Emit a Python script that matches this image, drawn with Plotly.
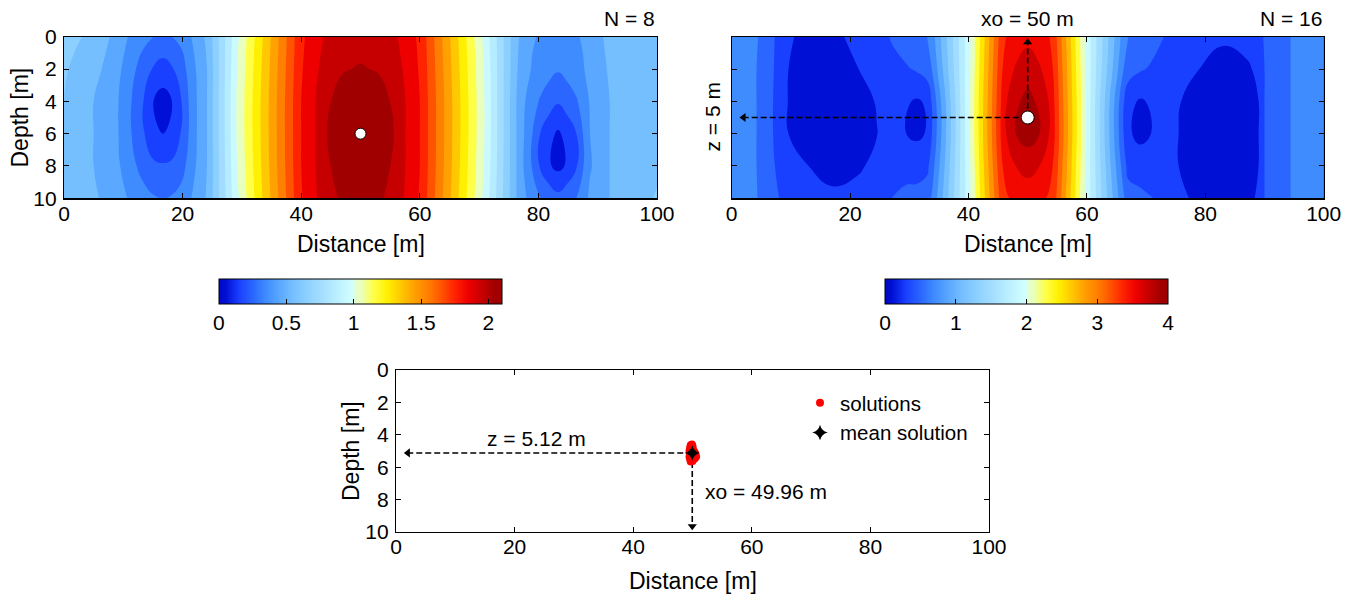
import numpy as np
import plotly.graph_objects as go

# ---------------- data ----------------
Z_ROWS = [0, 2, 4, 6, 8, 10]

# Field for N = 8 (columns of values at depths Z_ROWS)
X1 = [0, 3, 5, 7.7, 9.2, 11.4, 13.4, 15.1, 16.7, 18.2, 19.8, 21, 22.4, 24.1, 29.2,
      40, 42.2, 44.4, 47, 50, 53, 55.6, 57.8, 60, 70.8, 76.3, 77.6, 79, 80.3, 81.8,
      83.3, 84.8, 86.4, 87.5, 88.7, 92, 96, 100]
F1_COLS = [
    [0.63, 0.61, 0.60, 0.58, 0.56, 0.55],
    [0.60, 0.57, 0.54, 0.53, 0.52, 0.52],
    [0.55, 0.53, 0.50, 0.50, 0.50, 0.51],
    [0.50, 0.47, 0.45, 0.45, 0.46, 0.48],
    [0.45, 0.42, 0.40, 0.40, 0.41, 0.44],
    [0.38, 0.33, 0.30, 0.30, 0.33, 0.38],
    [0.33, 0.25, 0.20, 0.21, 0.26, 0.34],
    [0.30, 0.19, 0.10, 0.12, 0.22, 0.31],
    [0.295, 0.15, 0.065, 0.10, 0.21, 0.30],
    [0.30, 0.19, 0.10, 0.12, 0.22, 0.31],
    [0.33, 0.25, 0.20, 0.21, 0.26, 0.34],
    [0.38, 0.33, 0.30, 0.30, 0.33, 0.38],
    [0.44, 0.41, 0.40, 0.40, 0.41, 0.44],
    [0.52, 0.50, 0.50, 0.50, 0.50, 0.51],
    [0.98, 1.00, 1.01, 1.01, 1.00, 0.98],
    [1.78, 1.79, 1.80, 1.80, 1.80, 1.79],
    [1.85, 1.87, 1.89, 1.89, 1.89, 1.88],
    [1.92, 1.96, 1.99, 2.00, 1.99, 1.97],
    [1.96, 1.995, 2.03, 2.045, 2.035, 2.015],
    [1.975, 2.005, 2.06, 2.08, 2.06, 2.03],
    [1.96, 1.995, 2.03, 2.045, 2.035, 2.015],
    [1.92, 1.96, 1.99, 2.00, 1.99, 1.97],
    [1.85, 1.87, 1.89, 1.89, 1.89, 1.88],
    [1.78, 1.79, 1.80, 1.80, 1.80, 1.79],
    [0.98, 1.00, 1.01, 1.01, 1.00, 0.98],
    [0.52, 0.51, 0.50, 0.50, 0.50, 0.50],
    [0.46, 0.44, 0.41, 0.40, 0.39, 0.42],
    [0.41, 0.39, 0.34, 0.30, 0.29, 0.35],
    [0.39, 0.36, 0.29, 0.20, 0.19, 0.30],
    [0.38, 0.33, 0.25, 0.13, 0.11, 0.27],
    [0.37, 0.31, 0.21, 0.085, 0.075, 0.23],
    [0.38, 0.33, 0.25, 0.13, 0.11, 0.27],
    [0.39, 0.36, 0.29, 0.20, 0.19, 0.30],
    [0.41, 0.39, 0.34, 0.30, 0.29, 0.35],
    [0.46, 0.44, 0.41, 0.40, 0.39, 0.42],
    [0.52, 0.51, 0.50, 0.50, 0.50, 0.50],
    [0.55, 0.54, 0.53, 0.53, 0.53, 0.55],
    [0.56, 0.56, 0.56, 0.57, 0.58, 0.61],
]

# Field for N = 16
X2 = [0, 4.2, 7, 9.6, 13, 17, 21, 24.5, 27, 29.5, 31.2, 33, 33.8, 40.3, 45.5, 46.5,
      48, 50, 52, 53.5, 54.5, 59.7, 66.2, 67, 69, 70.8, 73, 75.5, 79, 83, 87, 89,
      90, 94.4, 100]
F2_COLS = [
    [0.74, 0.73, 0.72, 0.72, 0.73, 0.74],
    [0.62, 0.60, 0.60, 0.60, 0.60, 0.61],
    [0.42, 0.41, 0.40, 0.40, 0.42, 0.45],
    [0.22, 0.20, 0.19, 0.20, 0.25, 0.32],
    [0.15, 0.12, 0.10, 0.12, 0.20, 0.28],
    [0.15, 0.10, 0.08, 0.09, 0.15, 0.23],
    [0.25, 0.19, 0.13, 0.11, 0.17, 0.26],
    [0.33, 0.27, 0.21, 0.195, 0.24, 0.32],
    [0.41, 0.36, 0.30, 0.28, 0.33, 0.40],
    [0.50, 0.38, 0.22, 0.20, 0.33, 0.45],
    [0.55, 0.42, 0.18, 0.17, 0.30, 0.48],
    [0.60, 0.50, 0.22, 0.21, 0.35, 0.52],
    [0.70, 0.60, 0.42, 0.40, 0.50, 0.62],
    [1.98, 2.00, 2.02, 2.02, 2.00, 1.98],
    [3.30, 3.36, 3.40, 3.42, 3.36, 3.28],
    [3.42, 3.52, 3.60, 3.62, 3.50, 3.38],
    [3.50, 3.62, 3.76, 3.80, 3.60, 3.45],
    [3.55, 3.70, 3.86, 3.90, 3.66, 3.50],
    [3.50, 3.62, 3.76, 3.80, 3.60, 3.45],
    [3.42, 3.52, 3.60, 3.62, 3.50, 3.38],
    [3.30, 3.36, 3.40, 3.42, 3.36, 3.28],
    [1.98, 2.00, 2.02, 2.02, 2.00, 1.98],
    [0.70, 0.60, 0.42, 0.40, 0.50, 0.62],
    [0.60, 0.50, 0.25, 0.22, 0.33, 0.50],
    [0.55, 0.42, 0.18, 0.16, 0.28, 0.46],
    [0.48, 0.38, 0.22, 0.20, 0.30, 0.41],
    [0.40, 0.34, 0.28, 0.27, 0.30, 0.36],
    [0.35, 0.28, 0.21, 0.20, 0.20, 0.23],
    [0.30, 0.20, 0.13, 0.12, 0.13, 0.17],
    [0.22, 0.15, 0.09, 0.08, 0.09, 0.12],
    [0.27, 0.17, 0.12, 0.11, 0.12, 0.16],
    [0.33, 0.24, 0.20, 0.20, 0.20, 0.22],
    [0.42, 0.40, 0.40, 0.40, 0.40, 0.40],
    [0.60, 0.60, 0.60, 0.60, 0.60, 0.60],
    [0.72, 0.72, 0.72, 0.72, 0.72, 0.72],
]

SOURCE1 = (50, 6)          # white dot, N = 8
SOURCE2 = (50, 5)          # white dot, N = 16 (xo = 50 m, z = 5 m)

# Inversion solutions (cloud) and their mean
SOL_X = [49.7, 49.9, 50.0, 49.6, 49.8, 50.1, 49.5, 49.7, 50.0, 50.3, 49.6, 49.9, 50.2,
         50.5, 50.6, 49.5, 49.8, 50.1, 50.4, 49.6, 49.9, 50.2, 49.7, 50.0, 50.3, 50.45]
SOL_Z = [4.65, 4.6, 4.7, 4.8, 4.85, 4.9, 5.0, 5.05, 5.0, 5.05, 5.2, 5.2, 5.2,
         5.25, 5.35, 5.35, 5.35, 5.4, 5.45, 5.5, 5.55, 5.5, 5.65, 5.62, 5.4, 5.15]
MEAN_X, MEAN_Z = 49.96, 5.12
ARROW_END_X = 2.0

CB1_TICKS = [0, 0.5, 1, 1.5, 2]
CB1_TEXT = ["0", "0.5", "1", "1.5", "2"]
CB2_TICKS = [0, 1, 2, 3, 4]
CB2_TEXT = ["0", "1", "2", "3", "4"]
X_TICKS = [0, 20, 40, 60, 80, 100]
Z_TICKS = [0, 2, 4, 6, 8, 10]

# ---------------- colours ----------------
BLUE = [(0.0, '#0008c8'), (0.05, '#0010d4'), (0.15, '#1a40ff'), (0.25, '#2a66ff'),
        (0.35, '#3f8cff'), (0.45, '#5aa8ff'), (0.55, '#76bfff'), (0.65, '#8cd0ff'),
        (0.75, '#a2ddff'), (0.85, '#b6ecff'), (0.95, '#cafaff'), (1.0, '#d4ffff')]
RED = [(0.0, '#e0ffd8'), (0.045, '#e8ffc0'), (0.136, '#ffff48'), (0.227, '#fff000'),
       (0.318, '#ffc800'), (0.41, '#ffa000'), (0.5, '#ff8000'), (0.59, '#ff5400'),
       (0.68, '#ff2400'), (0.77, '#f00000'), (0.86, '#c80000'), (0.955, '#a00000'),
       (1.0, '#a00000')]


def _rgb(h):
    h = h.lstrip('#')
    return [int(h[i:i + 2], 16) for i in (0, 2, 4)]


def _interp(anchors, u):
    u = min(max(u, 0.0), 1.0)
    for (u0, c0), (u1, c1) in zip(anchors[:-1], anchors[1:]):
        if u <= u1:
            f = 0.0 if u1 == u0 else (u - u0) / (u1 - u0)
            a, b = _rgb(c0), _rgb(c1)
            return 'rgb(%d,%d,%d)' % tuple(round(a[k] + (b[k] - a[k]) * f) for k in range(3))
    return 'rgb(%d,%d,%d)' % tuple(_rgb(anchors[-1][1]))


def value_color(v, center, vmax):
    if v <= center:
        return _interp(BLUE, v / center)
    return _interp(RED, (v - center) / (vmax - center))


def make_scale(lo, hi, center, vmax, n=400):
    return [[i / n, value_color(lo + (hi - lo) * i / n, center, vmax)] for i in range(n + 1)]


FONT = "Liberation Sans, Arial, sans-serif"
W, H = 1355, 597


def px_x(p):
    return p / W


def px_y(p):
    return 1 - p / H


F1 = np.array(F1_COLS).T
F2 = np.array(F2_COLS).T

fig = go.Figure()


def cbar(cx, ticks, text):
    return dict(orientation='h', x=px_x(cx), xanchor='center',
                y=px_y(279.3), yanchor='top', len=283, lenmode='pixels',
                thickness=25, thicknessmode='pixels', xpad=0, ypad=0,
                outlinewidth=1, outlinecolor='black', ticks='inside',
                ticklen=5, tickcolor='black', tickvals=ticks, ticktext=text,
                tickfont=dict(size=21, family=FONT, color='black'))


# ---- plot 1 ----
fig.add_trace(go.Heatmap(x=X1, y=Z_ROWS, z=F1, zmin=0, zmax=2.1,
                         colorscale=make_scale(0, 2.1, 1.0, 2.1), opacity=0,
                         hoverinfo='skip', showscale=True, xaxis='x', yaxis='y',
                         colorbar=cbar(360.4, CB1_TICKS, CB1_TEXT)))
fig.add_trace(go.Contour(x=X1, y=Z_ROWS, z=F1, autocontour=False,
                         contours=dict(start=0, end=2.0, size=0.1, coloring='fill', showlines=False),
                         line=dict(width=0, smoothing=1.3),
                         colorscale=make_scale(-0.05, 2.05, 1.0, 2.1),
                         showscale=False, hoverinfo='skip', xaxis='x', yaxis='y'))
fig.add_trace(go.Scatter(x=[SOURCE1[0]], y=[SOURCE1[1]], mode='markers',
                         marker=dict(size=11, color='white', line=dict(color='black', width=1)),
                         showlegend=False, hoverinfo='skip', xaxis='x', yaxis='y'))

# ---- plot 2 ----
fig.add_trace(go.Heatmap(x=X2, y=Z_ROWS, z=F2, zmin=0, zmax=4,
                         colorscale=make_scale(0, 4, 2.0, 4.0), opacity=0,
                         hoverinfo='skip', showscale=True, xaxis='x2', yaxis='y2',
                         colorbar=cbar(1026.7, CB2_TICKS, CB2_TEXT)))
fig.add_trace(go.Contour(x=X2, y=Z_ROWS, z=F2, autocontour=False,
                         contours=dict(start=0, end=3.8, size=0.2, coloring='fill', showlines=False),
                         line=dict(width=0, smoothing=1.3),
                         colorscale=make_scale(-0.1, 3.9, 2.0, 4.0),
                         showscale=False, hoverinfo='skip', xaxis='x2', yaxis='y2'))
dash = dict(color='black', width=1.6, dash='6px,3px')
fig.add_trace(go.Scatter(x=[SOURCE2[0], SOURCE2[0]], y=[SOURCE2[1], 0.35], mode='lines',
                         line=dash, showlegend=False, hoverinfo='skip', xaxis='x2', yaxis='y2'))
fig.add_trace(go.Scatter(x=[SOURCE2[0], ARROW_END_X], y=[SOURCE2[1], SOURCE2[1]], mode='lines',
                         line=dash, showlegend=False, hoverinfo='skip', xaxis='x2', yaxis='y2'))
fig.add_trace(go.Scatter(x=[SOURCE2[0], ARROW_END_X], y=[0.35, SOURCE2[1]], mode='markers',
                         marker=dict(symbol=['triangle-up', 'triangle-left'], size=8, color='black'),
                         showlegend=False, hoverinfo='skip', xaxis='x2', yaxis='y2'))
fig.add_trace(go.Scatter(x=[SOURCE2[0]], y=[SOURCE2[1]], mode='markers',
                         marker=dict(size=13, color='white', line=dict(color='black', width=1)),
                         showlegend=False, hoverinfo='skip', xaxis='x2', yaxis='y2'))

# ---- plot 3 ----
fig.add_trace(go.Scatter(x=[MEAN_X, ARROW_END_X], y=[MEAN_Z, MEAN_Z], mode='lines', line=dash,
                         showlegend=False, hoverinfo='skip', xaxis='x3', yaxis='y3'))
fig.add_trace(go.Scatter(x=[MEAN_X, MEAN_X], y=[MEAN_Z, 9.65], mode='lines', line=dash,
                         showlegend=False, hoverinfo='skip', xaxis='x3', yaxis='y3'))
fig.add_trace(go.Scatter(x=[ARROW_END_X, MEAN_X], y=[MEAN_Z, 9.65], mode='markers',
                         marker=dict(symbol=['triangle-left', 'triangle-down'], size=8, color='black'),
                         showlegend=False, hoverinfo='skip', xaxis='x3', yaxis='y3'))
fig.add_trace(go.Scatter(x=SOL_X, y=SOL_Z, mode='markers', name='solutions',
                         marker=dict(size=8, color='#ff0000'), showlegend=True,
                         hoverinfo='skip', xaxis='x3', yaxis='y3'))
fig.add_trace(go.Scatter(x=[MEAN_X], y=[MEAN_Z], mode='markers', name='mean solution',
                         marker=dict(size=11, color='black', symbol='star-diamond'),
                         showlegend=True, hoverinfo='skip', xaxis='x3', yaxis='y3'))

axis_common = dict(showline=True, linecolor='black', linewidth=1.2, mirror='ticks',
                   ticks='inside', ticklen=5, tickwidth=1, tickcolor='black',
                   showgrid=False, zeroline=False, automargin=False,
                   tickfont=dict(size=21, family=FONT, color='black'))


def xax(domain, anchor):
    return dict(axis_common, domain=domain, anchor=anchor, range=[0, 100], tickvals=X_TICKS,
                ticklabelstandoff=-4)


def yax(domain, anchor, labels=True):
    return dict(axis_common, domain=domain, anchor=anchor, range=[10, 0], tickvals=Z_TICKS,
                showticklabels=labels, ticklabelstandoff=2)


def title_font():
    return dict(size=23, family=FONT, color='black')


top_y = [px_y(198.3), px_y(36.7)]
fig.update_layout(
    template='none',
    width=W, height=H, margin=dict(l=0, r=0, t=0, b=0, autoexpand=False),
    paper_bgcolor='white', plot_bgcolor='white',
    font=dict(family=FONT, color='black', size=21),
    xaxis=xax([px_x(64), px_x(657)], 'y'),
    yaxis=yax(top_y, 'x'),
    xaxis2=xax([px_x(731.7), px_x(1323.7)], 'y2'),
    yaxis2=yax(top_y, 'x2', labels=False),
    xaxis3=xax([px_x(396), px_x(989)], 'y3'),
    yaxis3=yax([px_y(532), px_y(370)], 'x3'),
    legend=dict(x=px_x(800), y=px_y(383), xanchor='left', yanchor='top',
                bgcolor='rgba(0,0,0,0)', borderwidth=0, tracegroupgap=0,
                font=dict(size=20.5, family=FONT, color='black')),
    showlegend=True,
    annotations=[
        dict(text='N = 8', x=px_x(657), y=px_y(19), xref='paper', yref='paper',
             xanchor='right', yanchor='middle', showarrow=False, font=dict(size=21)),
        dict(text='N = 16', x=px_x(1323.7), y=px_y(19), xref='paper', yref='paper',
             xanchor='right', yanchor='middle', showarrow=False, font=dict(size=21)),
        dict(text='xo = 50 m', x=SOURCE2[0], y=px_y(19), xref='x2', yref='paper',
             xanchor='center', yanchor='middle', showarrow=False, font=dict(size=21)),
        dict(text='z = 5 m', x=px_x(712), y=SOURCE2[1], xref='paper', yref='y2',
             xanchor='center', yanchor='middle', textangle=-90, showarrow=False,
             font=dict(size=21)),
        dict(text='z = 5.12 m', x=23.7, y=4.2, xref='x3', yref='y3',
             xanchor='center', yanchor='middle', showarrow=False, font=dict(size=21)),
        dict(text='xo = 49.96 m', x=51.8, y=7.5, xref='x3', yref='y3',
             xanchor='left', yanchor='middle', showarrow=False, font=dict(size=21)),
        # axis titles
        dict(text='Distance [m]', x=50, y=px_y(244), xref='x', yref='paper',
             xanchor='center', yanchor='middle', showarrow=False, font=title_font()),
        dict(text='Distance [m]', x=50, y=px_y(244), xref='x2', yref='paper',
             xanchor='center', yanchor='middle', showarrow=False, font=title_font()),
        dict(text='Distance [m]', x=50, y=px_y(581), xref='x3', yref='paper',
             xanchor='center', yanchor='middle', showarrow=False, font=title_font()),
        dict(text='Depth [m]', x=px_x(20), y=5, xref='paper', yref='y',
             xanchor='center', yanchor='middle', textangle=-90, showarrow=False,
             font=title_font()),
        dict(text='Depth [m]', x=px_x(351), y=5, xref='paper', yref='y3',
             xanchor='center', yanchor='middle', textangle=-90, showarrow=False,
             font=title_font()),
    ],
)

fig.write_html("out.html",
               config={'displayModeBar': False, 'staticPlot': True},
               post_script="document.body.style.margin='0px';"
                           "document.body.style.padding='0px';"
                           "document.body.style.overflow='hidden';")
